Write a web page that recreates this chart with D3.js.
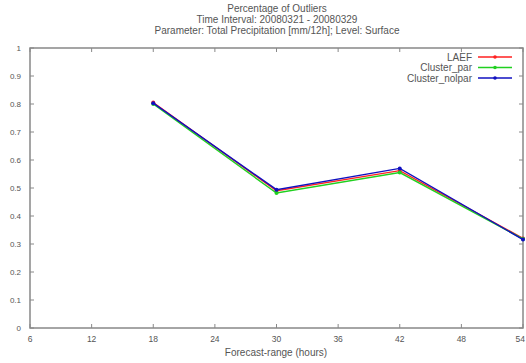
<!DOCTYPE html>
<html>
<head>
<meta charset="utf-8">
<script src="https://cdn.jsdelivr.net/npm/d3@7"></script>
<style>
  body { margin: 0; background: #fff; }
  text { font-family: "Liberation Sans", Arial, sans-serif; fill: #555; }
</style>
</head>
<body>
<svg id="chart" width="526" height="363"></svg>
<script>
const width = 526;
const height = 363;

const hours = [18, 30, 42, 54];
const laef = [0.805, 0.490, 0.562, 0.320];
const clusterPar = [0.800, 0.482, 0.555, 0.318];
const clusterNolpar = [0.803, 0.494, 0.570, 0.316];
const xTicks = [6, 12, 18, 24, 30, 36, 42, 48, 54];
const yTicks = [0, 0.1, 0.2, 0.3, 0.4, 0.5, 0.6, 0.7, 0.8, 0.9, 1];

const series = [
  { name: "LAEF", values: laef, color: "#ff2020" },
  { name: "Cluster_par", values: clusterPar, color: "#20d020" },
  { name: "Cluster_nolpar", values: clusterNolpar, color: "#1010c0" }
];

const margin = { top: 48, right: 3, bottom: 35, left: 30 };
const svg = d3.select("#chart");

const x = d3.scaleLinear().domain([6, 54]).range([margin.left, width - margin.right]);
const y = d3.scaleLinear().domain([0, 1]).range([height - margin.bottom, margin.top]);

// titles
const titles = [
  "Percentage of Outliers",
  "Time Interval: 20080321 - 20080329",
  "Parameter: Total Precipitation [mm/12h]; Level: Surface"
];
svg.selectAll("text.title")
  .data(titles)
  .join("text")
  .attr("class", "title")
  .attr("x", 277)
  .attr("y", (d, i) => 12 + i * 11)
  .attr("text-anchor", "middle")
  .attr("font-size", 10)
  .text(d => d);

// ticks, mirrored like gnuplot
const tickLen = 4;
const frame = svg.append("g").attr("stroke", "#888").attr("stroke-width", 1);
xTicks.forEach(t => {
  frame.append("line").attr("x1", x(t)).attr("x2", x(t))
    .attr("y1", y(0)).attr("y2", y(0) - tickLen);
  frame.append("line").attr("x1", x(t)).attr("x2", x(t))
    .attr("y1", y(1)).attr("y2", y(1) + tickLen);
});
yTicks.forEach(t => {
  frame.append("line").attr("x1", x(6)).attr("x2", x(6) + tickLen)
    .attr("y1", y(t)).attr("y2", y(t));
  frame.append("line").attr("x1", x(54)).attr("x2", x(54) - tickLen)
    .attr("y1", y(t)).attr("y2", y(t));
});
frame.append("rect")
  .attr("x", x(6)).attr("y", y(1))
  .attr("width", x(54) - x(6)).attr("height", y(0) - y(1))
  .attr("fill", "none").attr("stroke-width", 1.5);

// last label pushed inside so it is not clipped by the edge
svg.selectAll("text.xtick")
  .data(xTicks)
  .join("text")
  .attr("class", "xtick")
  .attr("x", d => d === 54 ? width - 1 : x(d))
  .attr("y", y(0) + 14)
  .attr("text-anchor", d => d === 54 ? "end" : "middle")
  .attr("font-size", 8.5)
  .text(d => d);

svg.selectAll("text.ytick")
  .data(yTicks)
  .join("text")
  .attr("class", "ytick")
  .attr("x", 21)
  .attr("y", d => y(d) + 3)
  .attr("text-anchor", "end")
  .attr("font-size", 8)
  .text(d => d);

svg.append("text")
  .attr("x", 276)
  .attr("y", 356)
  .attr("text-anchor", "middle")
  .attr("font-size", 10)
  .text("Forecast-range (hours)");

// lines
const line = d3.line().x((d, i) => x(hours[i])).y(d => y(d));
series.forEach(s => {
  svg.append("path")
    .attr("d", line(s.values))
    .attr("fill", "none")
    .attr("stroke", s.color)
    .attr("stroke-width", 1.4);
  svg.selectAll(null)
    .data(s.values)
    .join("circle")
    .attr("cx", (d, i) => x(hours[i]))
    .attr("cy", d => y(d))
    .attr("r", 2)
    .attr("fill", s.color);
});

// legend
const legend = svg.append("g");
series.forEach((s, i) => {
  const ly = 57 + i * 10.5;
  legend.append("text")
    .attr("x", 472).attr("y", ly + 3.5)
    .attr("text-anchor", "end").attr("font-size", 10)
    .text(s.name);
  legend.append("line")
    .attr("x1", 478).attr("x2", 512)
    .attr("y1", ly).attr("y2", ly)
    .attr("stroke", s.color).attr("stroke-width", 1.4);
  legend.append("circle")
    .attr("cx", 495).attr("cy", ly).attr("r", 1.8).attr("fill", s.color);
});
</script>
</body>
</html>
